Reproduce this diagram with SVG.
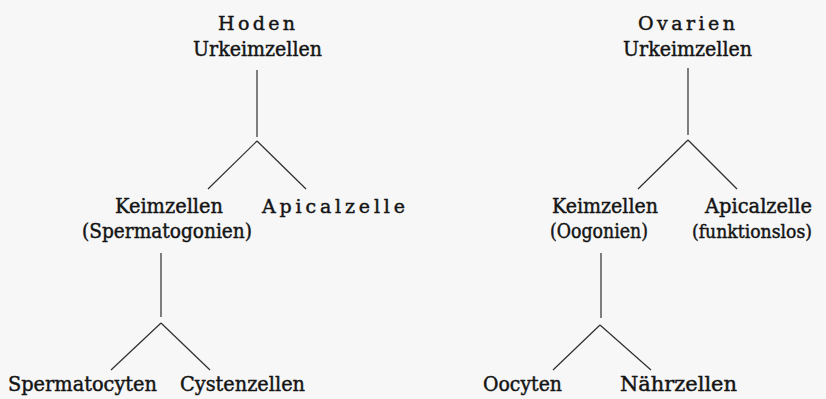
<svg xmlns="http://www.w3.org/2000/svg" width="826" height="399" viewBox="0 0 826 399">
<style>
text{font-family:"DejaVu Serif","Liberation Serif",serif;font-size:20px;fill:#141414;stroke:#141414;stroke-width:0.45;}
.sp{font-size:19px;}
.sm{font-size:18.5px;}
.c line{stroke:#2e2e2e;stroke-width:1.2;}
</style>
<rect width="826" height="399" fill="#f7f7f7"/>
<g class="c" id="connectors">
<line x1="257" y1="70" x2="257" y2="137"/>
<line x1="257" y1="141" x2="208" y2="189"/>
<line x1="257" y1="141" x2="306" y2="189"/>
<line x1="161" y1="253" x2="161" y2="317"/>
<line x1="161" y1="323" x2="111" y2="370"/>
<line x1="161" y1="323" x2="210" y2="370"/>
<line x1="688" y1="68" x2="688" y2="135"/>
<line x1="688" y1="140" x2="638" y2="189"/>
<line x1="688" y1="140" x2="737" y2="189"/>
<line x1="601" y1="253" x2="601" y2="318"/>
<line x1="600" y1="325" x2="553" y2="370"/>
<line x1="600" y1="325" x2="651" y2="370"/>
</g>
<g id="hoden"><text class="sp" x="218" y="30" textLength="77" lengthAdjust="spacing">Hoden</text>
<text x="193" y="56" textLength="129" lengthAdjust="spacingAndGlyphs">Urkeimzellen</text></g>
<g id="keimzellen-l"><text x="115" y="213" textLength="108" lengthAdjust="spacingAndGlyphs">Keimzellen</text>
<text x="82" y="238" textLength="170" lengthAdjust="spacingAndGlyphs">(Spermatogonien)</text></g>
<g id="apicalzelle-l"><text class="sp" x="262" y="213" textLength="143" lengthAdjust="spacing">Apicalzelle</text></g>
<g id="spermatocyten"><text x="8" y="391" textLength="149" lengthAdjust="spacingAndGlyphs">Spermatocyten</text></g>
<g id="cystenzellen"><text x="180" y="391" textLength="125" lengthAdjust="spacingAndGlyphs">Cystenzellen</text></g>
<g id="ovarien"><text class="sp" x="638" y="30" textLength="97" lengthAdjust="spacing">Ovarien</text>
<text x="623" y="56" textLength="129" lengthAdjust="spacingAndGlyphs">Urkeimzellen</text></g>
<g id="keimzellen-r"><text x="552" y="213" textLength="106" lengthAdjust="spacingAndGlyphs">Keimzellen</text>
<text x="550" y="238" textLength="98" lengthAdjust="spacingAndGlyphs">(Oogonien)</text></g>
<g id="apicalzelle-r"><text x="705" y="213" textLength="107" lengthAdjust="spacingAndGlyphs">Apicalzelle</text>
<text class="sm" x="692" y="238" textLength="120" lengthAdjust="spacingAndGlyphs">(funktionslos)</text></g>
<g id="oocyten"><text x="483" y="391" textLength="79" lengthAdjust="spacingAndGlyphs">Oocyten</text></g>
<g id="naehrzellen"><text x="620" y="391" textLength="117" lengthAdjust="spacingAndGlyphs">Nährzellen</text></g>
</svg>
